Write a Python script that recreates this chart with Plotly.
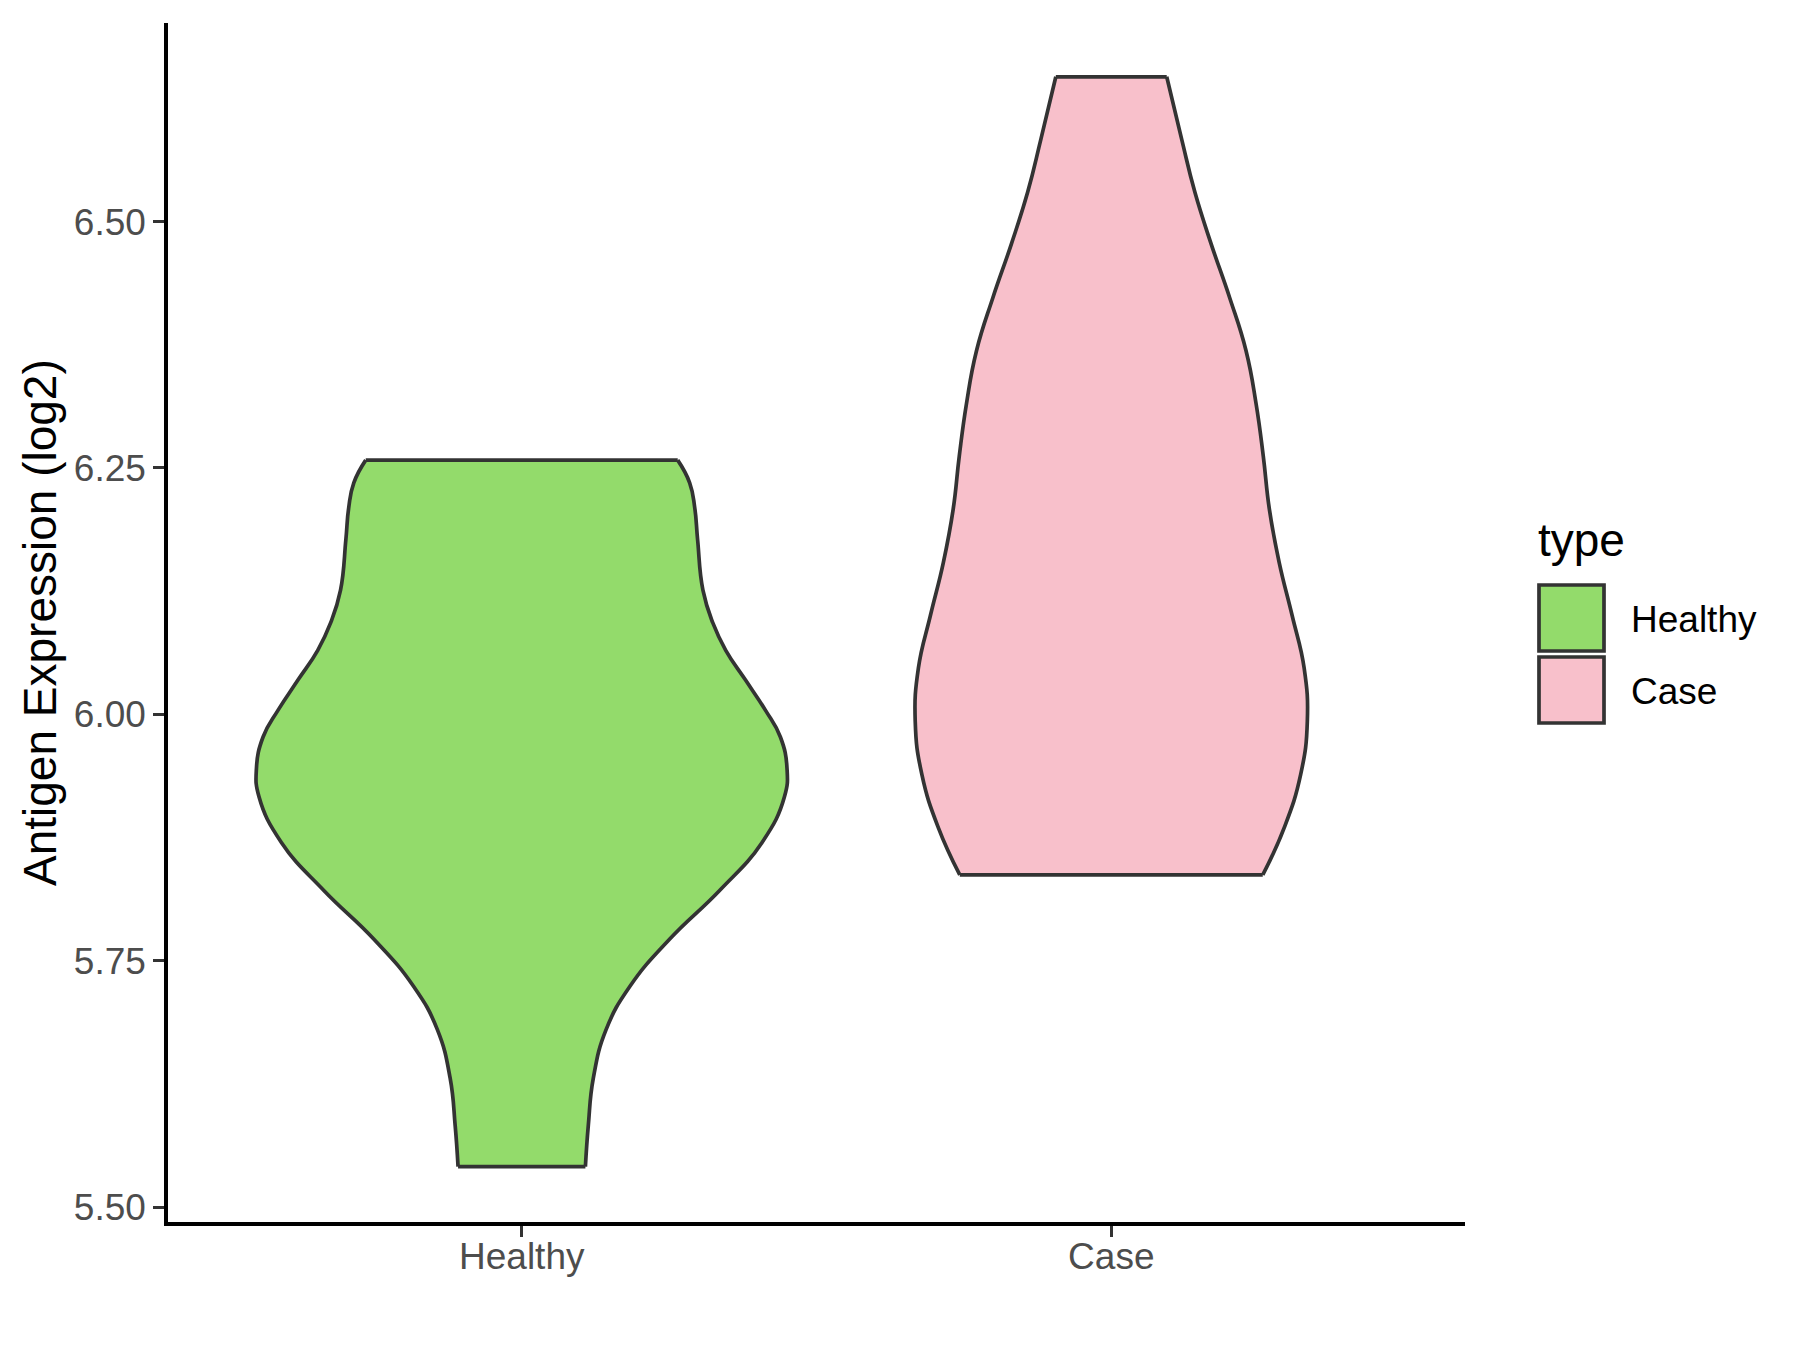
import plotly.graph_objects as go

# ---- data ----
categories = ["Healthy", "Case"]
fill_colors = ["#93DB6B", "#F8C0CB"]

# violin outlines: y levels and relative density (1 = widest violin)
healthy_y = [5.541, 5.583, 5.631, 5.680, 5.724, 5.772, 5.821, 5.870, 5.916, 5.945,
             5.977, 6.004, 6.035, 6.065, 6.093, 6.126, 6.177, 6.210, 6.235, 6.258]
healthy_density = [0.240, 0.251, 0.270, 0.318, 0.408, 0.558, 0.745, 0.906, 0.990, 1.000,
                   0.975, 0.919, 0.843, 0.769, 0.720, 0.683, 0.663, 0.652, 0.633, 0.588]

case_y = [5.837, 5.885, 5.939, 5.993, 6.047, 6.100, 6.154, 6.208, 6.262, 6.315,
          6.369, 6.423, 6.477, 6.530, 6.584, 6.647]
case_density = [0.571, 0.652, 0.714, 0.739, 0.727, 0.682, 0.633, 0.596, 0.573, 0.546,
                0.508, 0.446, 0.377, 0.315, 0.265, 0.209]

y_ticks = [5.50, 5.75, 6.00, 6.25, 6.50]
y_ticktext = ["5.50", "5.75", "6.00", "6.25", "6.50"]

# ---- layout constants ----
OFF = 8                      # page body margin in the browser
W, H = 1800, 1350
PX0, PX1, PY0, PY1 = 168, 1465, 23, 1222   # plot area on screen
ML, MT = PX0 - OFF, PY0 - OFF
PW, PH = PX1 - PX0, PY1 - PY0
MR, MB = W - ML - PW, H - MT - PH
HALF = 0.45
OUTLINE = "#333333"
LW = 3.7
FONT = "Liberation Sans, Arial, sans-serif"

fig = go.Figure()

series = [(healthy_y, healthy_density), (case_y, case_density)]
for i, (ys, ds) in enumerate(series):
    c = i + 1
    left = [c - HALF * d for d in ds]
    right = [c + HALF * d for d in ds]
    fig.add_trace(go.Scatter(x=left, y=ys, mode="lines",
                             line=dict(color=OUTLINE, width=LW, shape="spline", smoothing=1.3),
                             showlegend=False, hoverinfo="skip"))
    fig.add_trace(go.Scatter(x=right, y=ys, mode="lines", fill="tonextx",
                             fillcolor=fill_colors[i],
                             line=dict(color=OUTLINE, width=LW, shape="spline", smoothing=1.3),
                             name=categories[i], showlegend=False, hoverinfo="skip"))
    # flat trimmed ends
    for k in (0, -1):
        fig.add_trace(go.Scatter(x=[left[k], right[k]], y=[ys[k], ys[k]], mode="lines",
                                 line=dict(color=OUTLINE, width=LW),
                                 showlegend=False, hoverinfo="skip"))

def px_x(p):   # screen pixel -> paper x
    return (p - PX0) / PW

def px_y(p):   # screen pixel -> paper y
    return (PY1 - p) / PH

# manual legend (ggplot style)
fig.add_annotation(x=px_x(1536), y=px_y(540), xref="paper", yref="paper",
                   text="type", showarrow=False, xanchor="left", yanchor="middle",
                   font=dict(family=FONT, size=46, color="black"))
key_tops = [585, 657]
for i, cat in enumerate(categories):
    t = key_tops[i]
    fig.add_shape(type="rect", xref="paper", yref="paper",
                  x0=px_x(1539), x1=px_x(1604), y0=px_y(t + 66), y1=px_y(t),
                  fillcolor=fill_colors[i], line=dict(color=OUTLINE, width=LW))
    fig.add_annotation(x=px_x(1629), y=px_y(t + 34), xref="paper", yref="paper",
                       text=cat, showarrow=False, xanchor="left", yanchor="middle",
                       font=dict(family=FONT, size=37, color="black"))

# y-axis title
fig.add_annotation(x=px_x(40), y=px_y(623), xref="paper", yref="paper",
                   text="Antigen Expression (log2)", showarrow=False, textangle=-90,
                   xanchor="center", yanchor="middle",
                   font=dict(family=FONT, size=46, color="black"))

fig.update_layout(
    width=W, height=H,
    margin=dict(l=ML, r=MR, t=MT, b=MB, pad=0),
    paper_bgcolor="white", plot_bgcolor="white",
    font=dict(family=FONT),
    showlegend=False,
    xaxis=dict(range=[0.4, 2.6], tickvals=[1, 2], ticktext=categories,
               showline=True, linecolor="black", linewidth=3.5,
               ticks="outside", ticklen=11, tickwidth=3, tickcolor=OUTLINE,
               ticklabelstandoff=-12,
               tickfont=dict(family=FONT, size=37, color="#4D4D4D"),
               showgrid=False, zeroline=False, fixedrange=True),
    yaxis=dict(range=[5.4848, 6.7016], tickvals=y_ticks, ticktext=y_ticktext,
               showline=True, linecolor="black", linewidth=3.5,
               ticks="outside", ticklen=11, tickwidth=3, tickcolor=OUTLINE,
               tickfont=dict(family=FONT, size=37, color="#4D4D4D"),
               showgrid=False, zeroline=False, fixedrange=True),
)

fig.write_html("out.html")
